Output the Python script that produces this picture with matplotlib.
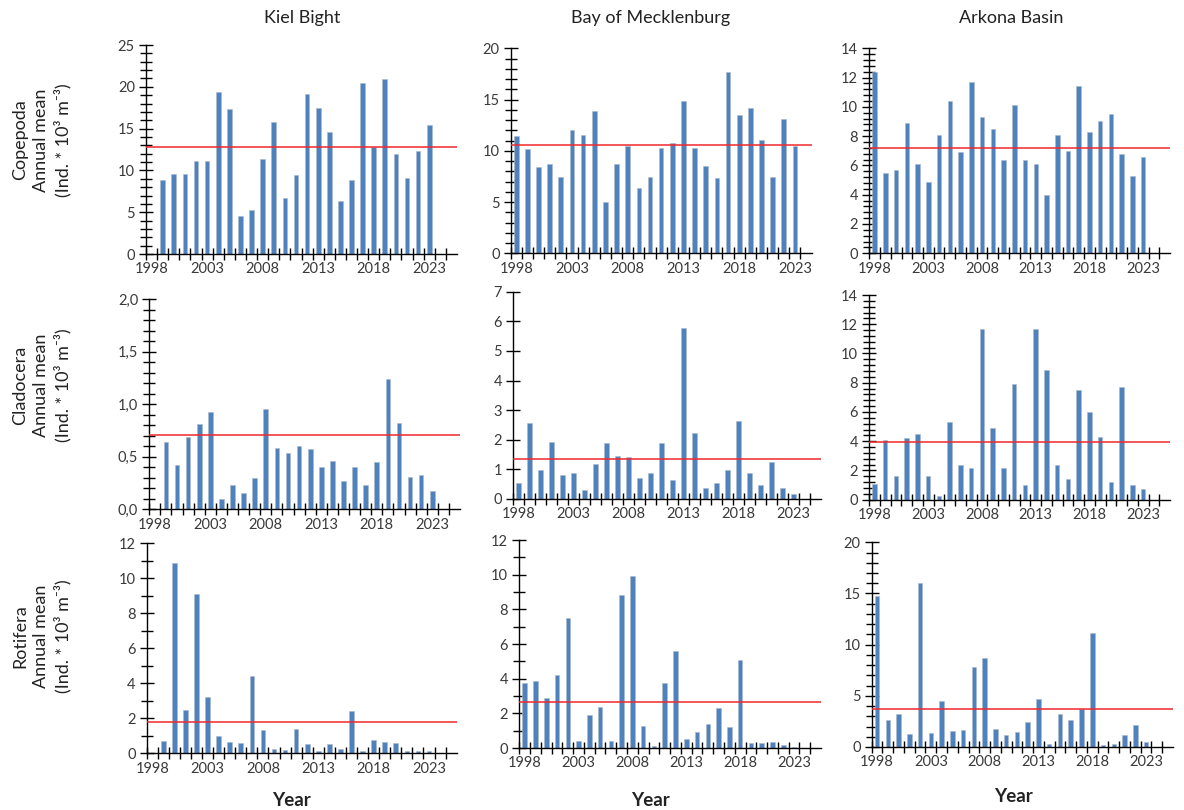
import matplotlib
matplotlib.use('Agg')
import matplotlib.pyplot as plt
from matplotlib.ticker import MultipleLocator, FuncFormatter

plt.rcParams['font.family'] = ['Lato', 'DejaVu Sans']

years = list(range(1998, 2024))
kiel_years = list(range(1999, 2024))   # no Kiel sample in 1998

stations = ['Kiel Bight', 'Bay of Mecklenburg', 'Arkona Basin']
groups = ['Copepoda', 'Cladocera', 'Rotifera']

# annual means, Ind. * 10^3 m^-3
kiel_cope = [8.8, 9.6, 9.6, 11.1, 11.1, 19.4, 17.3, 4.5, 5.3, 11.4, 15.8, 6.7, 9.5,
             19.1, 17.5, 14.6, 6.3, 8.8, 20.5, 12.8, 20.9, 12.0, 9.1, 12.3, 15.4]
meck_cope = [11.4, 10.2, 8.4, 8.7, 7.4, 12.0, 11.5, 13.9, 5.0, 8.7, 10.5, 6.4, 7.4,
             10.3, 10.8, 14.9, 10.3, 8.5, 7.3, 17.7, 13.5, 14.2, 11.1, 7.4, 13.1, 10.5]
ark_cope = [12.4, 5.5, 5.7, 8.9, 6.1, 4.9, 8.1, 10.4, 6.9, 11.7, 9.3, 8.5, 6.4,
            10.1, 6.4, 6.1, 4.0, 8.1, 7.0, 11.4, 8.3, 9.0, 9.5, 6.8, 5.3, 6.6]

kiel_clad = [0.64, 0.42, 0.69, 0.81, 0.93, 0.10, 0.23, 0.16, 0.30, 0.96, 0.58, 0.54, 0.60,
             0.57, 0.40, 0.46, 0.27, 0.40, 0.23, 0.45, 1.24, 0.82, 0.31, 0.33, 0.17]
meck_clad = [0.53, 2.58, 0.98, 1.91, 0.80, 0.88, 0.30, 1.19, 1.88, 1.46, 1.43, 0.70, 0.88,
             1.88, 0.63, 5.78, 2.23, 0.38, 0.53, 0.98, 2.64, 0.88, 0.48, 1.25, 0.38, 0.16]
ark_clad = [1.1, 4.1, 1.6, 4.2, 4.5, 1.6, 0.25, 5.3, 2.4, 2.2, 11.7, 4.9, 2.2,
            7.9, 1.0, 11.7, 8.9, 2.4, 1.4, 7.5, 6.0, 4.3, 1.2, 7.7, 1.0, 0.7]

kiel_roti = [0.69, 10.9, 2.5, 9.1, 3.2, 0.97, 0.65, 0.57, 4.4, 1.33, 0.23, 0.17, 1.41,
             0.51, 0.11, 0.51, 0.23, 2.42, 0.11, 0.74, 0.63, 0.57, 0.11, 0.11, 0.11]
meck_roti = [3.75, 3.87, 2.9, 4.2, 7.5, 0.4, 1.9, 2.37, 0.43, 8.8, 9.95, 1.29, 0.1,
             3.75, 5.6, 0.52, 0.94, 1.37, 2.31, 1.23, 5.06, 0.27, 0.27, 0.33, 0.17, 0.08]
ark_roti = [14.8, 2.6, 3.2, 1.3, 16.0, 1.4, 4.5, 1.6, 1.7, 7.8, 8.7, 1.8, 1.2,
            1.5, 2.4, 4.7, 0.26, 3.2, 2.6, 3.7, 11.1, 0.16, 0.26, 1.2, 2.1, 0.5]

# long-term means (red lines)
cope_mean = [12.8, 10.6, 7.2]
clad_mean = [0.71, 1.36, 3.92]
roti_mean = [1.78, 2.67, 3.75]

year_labels = [1998, 2003, 2008, 2013, 2018, 2023]

# axes boxes [left, bottom, width, height] per row / column
boxes = [
    [[0.1233, 0.6864, 0.2627, 0.2580], [0.4313, 0.6873, 0.2542, 0.2531], [0.7342, 0.6873, 0.2540, 0.2531]],
    [[0.1261, 0.3712, 0.2624, 0.2593], [0.4335, 0.3840, 0.2599, 0.2559], [0.7340, 0.3831, 0.2542, 0.2527]],
    [[0.1239, 0.0700, 0.2618, 0.2593], [0.4386, 0.0765, 0.2548, 0.2568], [0.7362, 0.0778, 0.2545, 0.2527]],
]
# ymax, major step, minor step
yscales = [
    [(25, 5, 1), (20, 5, 1), (14, 2, 0.4)],
    [(2.0, 0.5, 0.1), (7, 1, None), (14, 2, 0.4)],
    [(12, 2, 1), (12, 2, 1), (20, 5, 1)],
]

BLUE = '#4F81BD'
RED = '#F0292E'
TXT = '#3a3a3a'


def draw_panel(ax, x, y, mean, ymax, major, minor, xend, comma=False):
    ax.bar(x, y, width=0.42, color=BLUE, edgecolor='#a9b8cc', linewidth=0.4, zorder=2)
    ax.axhline(mean, color=RED, lw=1.3, alpha=0.85, zorder=3)
    ax.set_xlim(1997.5, xend)
    ax.set_ylim(0, ymax)
    for s in ['top', 'right']:
        ax.spines[s].set_visible(False)
    for s in ['left', 'bottom']:
        ax.spines[s].set_color('black')
        ax.spines[s].set_linewidth(1.0)

    # year labels sit in the middle of the slot, tick marks on slot borders
    ax.set_xticks(year_labels)
    ax.set_xticklabels([str(v) for v in year_labels])
    ax.set_xticks([v + 0.5 for v in range(1997, int(xend))], minor=True)
    ax.tick_params(axis='x', which='major', length=0, pad=6, labelsize=10.5, labelcolor=TXT)
    ax.tick_params(axis='x', which='minor', direction='inout', length=9, width=1)

    ax.yaxis.set_major_locator(MultipleLocator(major))
    if minor:
        ax.yaxis.set_minor_locator(MultipleLocator(minor))
    ax.tick_params(axis='y', which='major', direction='inout', length=10, width=1,
                   labelsize=10.5, labelcolor=TXT, pad=3)
    ax.tick_params(axis='y', which='minor', direction='inout', length=8, width=1)
    if comma:
        ax.yaxis.set_major_formatter(FuncFormatter(lambda v, p: f'{v:.1f}'.replace('.', ',')))
    else:
        ax.yaxis.set_major_formatter(FuncFormatter(lambda v, p: f'{v:g}'))


def main():
    fig = plt.figure(figsize=(11.84, 8.10), dpi=100)

    series = [
        [(kiel_years, kiel_cope), (years, meck_cope), (years, ark_cope)],
        [(kiel_years, kiel_clad), (years, meck_clad), (years, ark_clad)],
        [(kiel_years, kiel_roti), (years, meck_roti), (years, ark_roti)],
    ]
    means = [cope_mean, clad_mean, roti_mean]

    for r in range(3):
        for c in range(3):
            ax = fig.add_axes(boxes[r][c])
            x, y = series[r][c]
            ymax, major, minor = yscales[r][c]
            xend = 2024.5 if (r == 0 and c == 1) else 2025.5
            draw_panel(ax, x, y, means[r][c], ymax, major, minor, xend,
                       comma=(r == 1 and c == 0))

    title_x = [302, 651, 1011]
    for name, px in zip(stations, title_x):
        fig.text(px / 1184, 1 - 18 / 810, name, ha='center', va='center',
                 fontsize=13, color='#222222')

    row_y = [140, 385, 636]
    for g, py in zip(groups, row_y):
        fig.text(42 / 1184, 1 - py / 810, g + '\nAnnual mean\n(Ind. * 10³ m⁻³)',
                 rotation=90, ha='center', va='center', fontsize=13,
                 linespacing=1.35, color='#222222', multialignment='center')

    year_pos = [(291, 800), (650, 800), (1013, 797)]
    for px, py in year_pos:
        fig.text(px / 1184, 1 - py / 810, 'Year', ha='center', va='center',
                 fontsize=13.5, fontweight='bold', color='#222222')

    fig.savefig('out.png', dpi=100)


if __name__ == '__main__':
    main()
